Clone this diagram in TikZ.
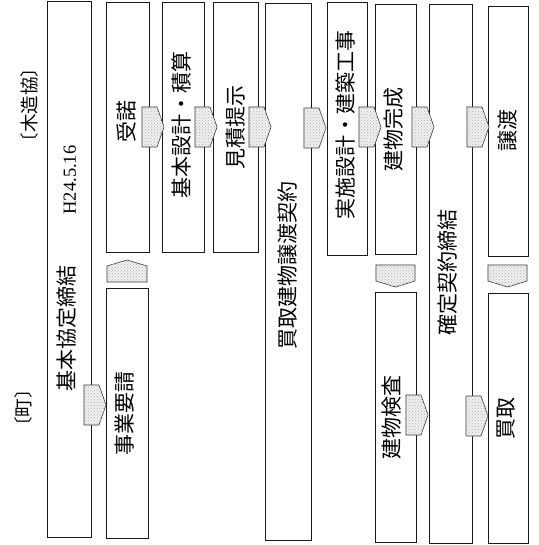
\documentclass[tikz,border=0pt]{standalone}
\usepackage{fontspec}
\setmainfont{Liberation Serif}
\newfontfamily\jp{Noto Sans CJK JP}
\newfontfamily\jpb{Noto Sans CJK JP}[RawFeature=+halt]
\usetikzlibrary{fit,patterns}
\newcommand\pentE[3]{% name, tip x, centre y
  \coordinate (#1) at (#2-11,#3);
  \path[pent] (#2-22,#3-20) -- (#2-7,#3-20) -- (#2,#3) -- (#2-7,#3+20) -- (#2-22,#3+20) -- cycle;}
\newcommand\pentU[4]{% name, left x, right x, tip y (pointing up)
  \coordinate (#1) at ({(#2+#3)/2},#4+11);
  \path[pent] (#2,#4+22) -- (#2,#4+6) -- ({(#2+#3)/2},#4) -- (#3,#4+6) -- (#3,#4+22) -- cycle;}
\newcommand\pentD[4]{% name, left x, right x, top y (pointing down)
  \coordinate (#1) at ({(#2+#3)/2},#4+11);
  \path[pent] (#2,#4) -- (#3,#4) -- (#3,#4+16) -- ({(#2+#3)/2},#4+22) -- (#2,#4+16) -- cycle;}
\begin{document}
\begin{tikzpicture}[x=1pt,y=-1pt,
  box/.style={draw=black!90, line width=1pt, inner sep=0pt, rectangle},
  pent/.style={draw=black!80, line width=0.6pt, fill=black!6,
     postaction={pattern=crosshatch dots, pattern color=black!30}},
  vt/.style={rotate=90, inner sep=0pt, font=\jp\fontsize{21}{21}\selectfont},
  hd/.style={rotate=90, inner sep=0pt, font=\jpb\fontsize{18.5}{18.5}\selectfont},
  lat/.style={rotate=90, inner sep=0pt, font=\fontsize{18.5}{18.5}\selectfont}]
\fill[white] (0,0) rectangle (538,545);
\useasboundingbox (0,0) rectangle (538,545);
% boxes
\node[box, fit={(47,2) (91,537)}] (b1) {};
\node[box, fit={(106,3) (149,252)}] (jud) {};
\node[box, fit={(106,288) (148,538)}] (jig) {};
\node[box, fit={(162,3) (204,252)}] (kih) {};
\node[box, fit={(213,3) (258,252)}] (mit) {};
\node[box, fit={(265,4) (311,540)}] (kai) {};
\node[box, fit={(327,3) (367,255)}] (jis) {};
\node[box, fit={(375,5) (416,254)}] (kan) {};
\node[box, fit={(375,292) (416,542)}] (ken) {};
\node[box, fit={(429,5) (472,543)}] (kak) {};
\node[box, fit={(488,7) (528,256)}] (jot) {};
\node[box, fit={(488,293) (528,543)}] (kat) {};
% texts
\node[hd] (h1) at (29,105) {〔木造協〕};
\node[hd] (h2) at (23,408) {〔町〕};
\node[vt] (t1a) at (67,328) {基本協定締結};
\node[lat] (t1b) at (70,180) {H24.5.16};
\node[vt] (tjud) at (126,122) {受諾};
\node[vt] (tjig) at (125,413) {事業要請};
\node[vt] (tkih) at (182,125) {基本設計・積算};
\node[vt] (tmit) at (236,128) {見積提示};
\node[vt] (tkai) at (288,265) {買取建物譲渡契約};
\node[vt] (tjis) at (345,125) {実施設計・建築工事};
\node[vt] (tkan) at (394,130) {建物完成};
\node[vt] (tken) at (392,417) {建物検査};
\node[vt] (tkak) at (448,272) {確定契約締結};
\node[vt] (tjot) at (507,131) {譲渡};
\node[vt] (tkat) at (506,418) {買取};
% pentagon arrows
\pentE{p1}{106}{405}
\pentE{p2}{164}{127}
\pentE{p3}{217}{127}
\pentE{p4}{271}{127}
\pentE{p5}{326}{128}
\pentE{p6}{381}{127}
\pentE{p7}{434}{127}
\pentE{p8}{489}{127}
\pentE{p9}{428}{415}
\pentE{p10}{488}{416}
\pentU{pu}{107}{147}{260}
\pentD{pd1}{376}{415}{265}
\pentD{pd2}{488}{527}{265}
\end{tikzpicture}
\end{document}
